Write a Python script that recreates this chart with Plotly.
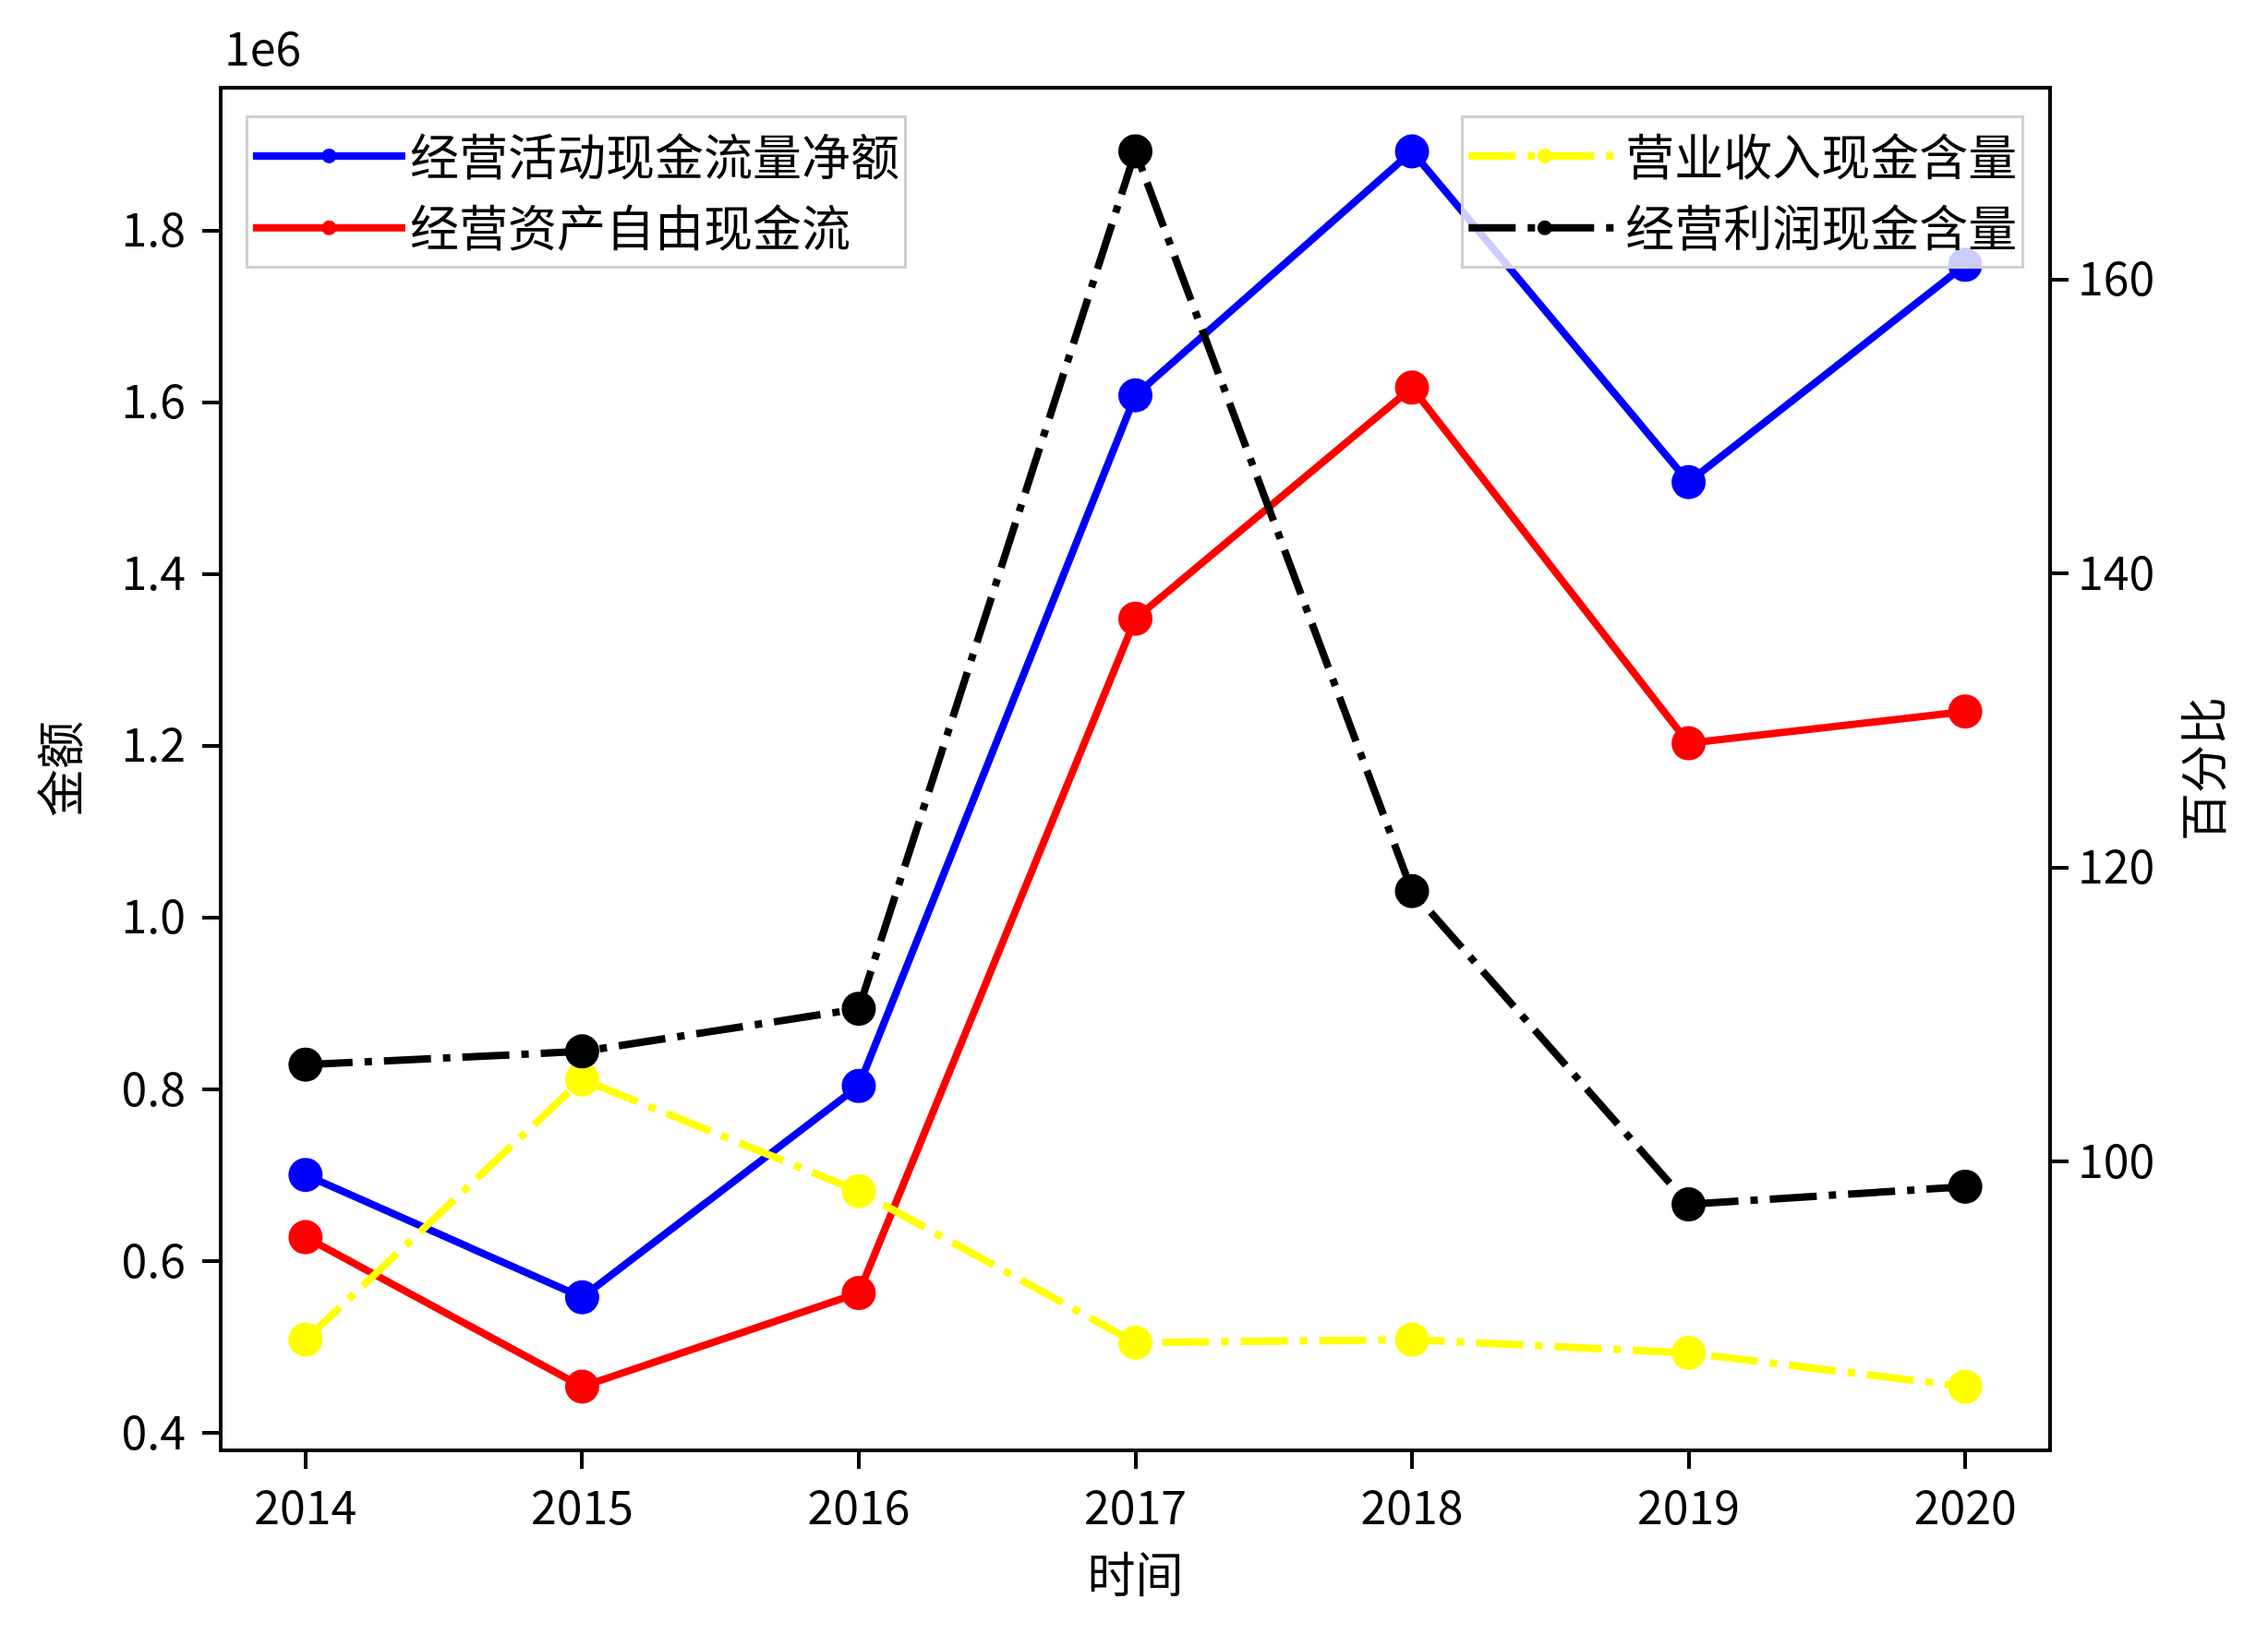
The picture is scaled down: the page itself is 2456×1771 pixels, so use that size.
import plotly.graph_objects as go

years = [2014, 2015, 2016, 2017, 2018, 2019, 2020]

# 金额 (left axis, 元)
op_cash_flow = [700500, 558000, 804000, 1608000, 1892000, 1507000, 1760000]
free_cash_flow = [628000, 454000, 563000, 1348000, 1617000, 1203000, 1240000]

# 百分比 (right axis)
revenue_cash_ratio = [87.9, 105.6, 98.0, 87.7, 87.9, 87.0, 84.7]
profit_cash_ratio = [106.6, 107.5, 110.4, 168.7, 118.4, 97.1, 98.3]

left_ticks = [400000, 600000, 800000, 1000000, 1200000, 1400000, 1600000, 1800000]
left_ticktext = ["0.4", "0.6", "0.8", "1.0", "1.2", "1.4", "1.6", "1.8"]
right_ticks = [100, 120, 140, 160]

FONT = "Noto Sans CJK SC"
DASHDOT = "51px,13px,8px,13px"

fig = go.Figure()

fig.add_trace(go.Scatter(x=years, y=op_cash_flow, name="经营活动现金流量净额",
                         mode="lines+markers", line=dict(color="#0000ff", width=8),
                         marker=dict(size=37, color="#0000ff"), legend="legend", legendgroup="a"))
fig.add_trace(go.Scatter(x=years, y=free_cash_flow, name="经营资产自由现金流",
                         mode="lines+markers", line=dict(color="#ff0000", width=8),
                         marker=dict(size=37, color="#ff0000"), legend="legend", legendgroup="b"))
fig.add_trace(go.Scatter(x=years, y=revenue_cash_ratio, name="营业收入现金含量",
                         mode="lines+markers", line=dict(color="#ffff00", width=8, dash=DASHDOT),
                         marker=dict(size=37, color="#ffff00"), yaxis="y2", legend="legend2",
                         legendgroup="c"))
fig.add_trace(go.Scatter(x=years, y=profit_cash_ratio, name="经营利润现金含量",
                         mode="lines+markers", line=dict(color="#000000", width=8, dash=DASHDOT),
                         marker=dict(size=37, color="#000000"), yaxis="y2", legend="legend2",
                         legendgroup="d"))

axis_common = dict(showgrid=False, zeroline=False, showline=True, linecolor="black",
                   linewidth=4, ticks="outside", ticklen=18, tickwidth=4, tickcolor="black",
                   tickfont=dict(family=FONT, size=50, color="black"))

legend_common = dict(yanchor="top", bgcolor="rgba(255,255,255,0.8)", bordercolor="#d0d0d0",
                     borderwidth=3, font=dict(family=FONT, size=53), itemwidth=165,
                     tracegroupgap=6)

fig.update_layout(
    width=2456, height=1771,
    margin=dict(l=233, r=246, t=89, b=210),
    plot_bgcolor="white", paper_bgcolor="white",
    font=dict(family=FONT, size=52, color="black"),
    xaxis=dict(range=[2013.7, 2020.3], tickvals=years, mirror=True,
               title=dict(text="时间", font=dict(size=52), standoff=22), **axis_common),
    yaxis=dict(range=[382000, 1964000], tickvals=left_ticks, ticktext=left_ticktext,
               ticklabelstandoff=8,
               title=dict(text="金额", font=dict(size=52), standoff=30), **axis_common),
    yaxis2=dict(range=[80.5, 172.9], tickvals=right_ticks, overlaying="y", side="right",
                title=dict(text="百分比", font=dict(size=52), standoff=38), **axis_common),
    legend=dict(x=0.0126, y=0.981, xanchor="left", **legend_common),
    legend2=dict(x=0.987, y=0.981, xanchor="right", **legend_common),
    annotations=[dict(text="1e6", xref="paper", yref="paper", x=0, y=1, xanchor="left",
                      yanchor="bottom", yshift=10, showarrow=False,
                      font=dict(family=FONT, size=50, color="black"))],
)

fig.write_html("out.html")
